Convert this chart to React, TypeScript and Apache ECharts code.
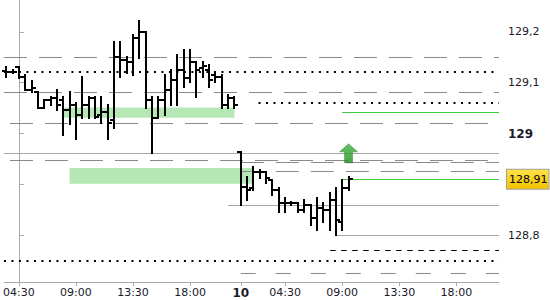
import React, { useEffect, useRef } from "react";
import * as echarts from "echarts";

// 30-minute slots: 0 = 04:30 (day 9). Day 10 starts at slot 35 (01:00).
const barSlots = [-2, -1, 0, 1, 2, 3, 4, 5, 6, 7, 8, 9, 10, 11, 12, 13, 14, 15, 16, 17, 18, 19, 20, 21, 22, 23, 24, 25, 26, 27, 28, 29, 30, 31, 32, 33, 34,
  35, 36, 37, 38, 39, 40, 41, 42, 43, 44, 45, 46, 47, 48, 49, 50, 51, 52];
const opens = [129.123, 129.121, 129.131, 129.111, 129.086, 129.082, 129.050, 129.066, 129.070, 129.066, 129.046, 129.056, 129.036, 129.056, 129.070, 129.036, 129.042, 129.027, 129.151, 129.145, 129.141, 129.188, 129.200, 129.066, 129.031, 129.066, 129.086, 129.105, 129.125, 129.109, 129.141, 129.129, 129.125, 129.115, 129.111, 129.056, 129.070,
  128.964, 128.895, 128.893, 128.924, 128.924, 128.908, 128.889, 128.863, 128.863, 128.863, 128.849, 128.859, 128.834, 128.853, 128.849, 128.869, 128.826, 128.893];
const highs = [129.131, 129.125, 129.131, 129.115, 129.103, 129.082, 129.066, 129.072, 129.086, 129.072, 129.082, 129.060, 129.111, 129.072, 129.072, 129.072, 129.056, 129.180, 129.180, 129.151, 129.194, 129.221, 129.200, 129.072, 129.072, 129.115, 129.125, 129.155, 129.164, 129.164, 129.141, 129.141, 129.135, 129.121, 129.115, 129.076, 129.072,
  128.964, 128.914, 128.934, 128.928, 128.924, 128.908, 128.893, 128.873, 128.865, 128.863, 128.869, 128.859, 128.873, 128.863, 128.883, 128.893, 128.908, 128.914];
const lows = [129.111, 129.119, 129.109, 129.086, 129.082, 129.050, 129.050, 129.056, 129.046, 128.997, 129.019, 128.989, 129.031, 129.031, 129.031, 129.021, 128.989, 129.011, 129.111, 129.119, 129.115, 129.149, 129.050, 128.962, 129.031, 129.036, 129.056, 129.056, 129.092, 129.101, 129.072, 129.111, 129.092, 129.101, 129.050, 129.050, 129.050,
  128.859, 128.869, 128.889, 128.912, 128.903, 128.879, 128.845, 128.845, 128.859, 128.845, 128.845, 128.820, 128.810, 128.826, 128.810, 128.800, 128.810, 128.889];
const closes = [129.121, 129.121, 129.111, 129.086, 129.090, 129.050, 129.066, 129.070, 129.056, 129.046, 129.056, 129.036, 129.056, 129.070, 129.032, 129.042, 129.021, 129.151, 129.145, 129.141, 129.188, 129.200, 129.066, 129.031, 129.066, 129.086, 129.105, 129.125, 129.109, 129.141, 129.125, 129.133, 129.105, 129.111, 129.056, 129.070, 129.056,
  128.895, 128.889, 128.924, 128.924, 128.912, 128.889, 128.863, 128.863, 128.863, 128.849, 128.859, 128.834, 128.853, 128.849, 128.869, 128.830, 128.893, 128.910];

const xMin = -2.35;
const xMax = 75.73;
const yMin = 128.7077;
const yMax = 129.2628;

const xTickSlots = [0, 9, 18, 27, 35, 42, 51, 60, 69];
const xTickLabels = ["04:30", "09:00", "13:30", "18:00", "10", "04:30", "09:00", "13:30", "18:00"];
const yTickValues = [128.8, 128.9, 129, 129.1, 129.2];
const yLabelValues = [128.8, 129, 129.1, 129.2]; // 128,9 is hidden behind the price box

// horizontal levels
const levelValues = [129.150, 129.122, 129.081, 129.060, 129.042, 129.020, 128.961, 128.947, 128.943, 128.926, 128.91, 128.859, 128.799, 128.771, 128.749, 128.725];
const levelStarts = [xMin, xMin, xMin, 37.8, 51, -1.4, xMin, -1.4, 35, 35, 51, 33, 50, 49.1, xMin, 35];
const levelKinds = ["dash", "dot", "dash", "dot", "green", "dash", "solid", "dash", "dash", "dash", "price", "solid", "solid", "black", "dot", "longgap"];

// green zones: [startSlot, endSlot, top, bottom]
const zoneStarts = [7, 8];
const zoneEnds = [34, 36.8];
const zoneTops = [129.051, 128.932];
const zoneBottoms = [129.031, 128.901];

// signal arrow
const arrowSlot = [52];
const arrowValue = [128.961];

const FONT = "DejaVu Sans";

function styleFor(kind: string) {
  switch (kind) {
    case "dash":
      return { color: "#8a8a8a", width: 1, type: [23, 12] };
    case "longgap":
      return { color: "#8a8a8a", width: 1, type: [15, 20] };
    case "dot":
      return { color: "#000", width: 2, type: [2, 5.5] };
    case "green":
    case "price":
      return { color: "#3cc83c", width: 1, type: "solid" };
    case "solid":
      return { color: "#a8a8a8", width: 1, type: "solid" };
    case "black":
      return { color: "#000", width: 1, type: [5.5, 5.5] };
  }
  return { color: "#888", width: 1, type: "solid" };
}

function fmtComma(v: number, d: number) {
  return v.toFixed(d).replace(".", ",");
}

export default function App() {
  const ref = useRef<HTMLDivElement>(null);
  useEffect(() => {
    if (!ref.current) return;
    const chart = echarts.init(ref.current, null, { renderer: "svg" });

    const ohlc = barSlots.map((s, i) => [s, opens[i], highs[i], lows[i], closes[i]]);

    const markLineData = levelValues.map((v, i) => {
      const kind = levelKinds[i];
      const ls = styleFor(kind);
      const start: any = {
        coord: [levelStarts[i], v],
        lineStyle: { color: ls.color, width: ls.width, type: ls.type },
        label: { show: false },
      };
      if (kind === "price") {
        start.label = {
          show: true,
          position: "end",
          formatter: fmtComma(v, 2),
          distance: 8,
          color: "#000",
          fontFamily: FONT,
          fontSize: 11,
          lineHeight: 14,
          padding: [3, 1, 2, 2],
          backgroundColor: new echarts.graphic.LinearGradient(0, 0, 0, 1, [
            { offset: 0, color: "#ffe24a" },
            { offset: 1, color: "#f2c200" },
          ]),
          borderColor: "#a0a0a0",
          borderWidth: 1,
        };
      }
      return [start, { coord: [xMax, v] }];
    });

    const markAreaData = zoneStarts.map((s, i) => [
      { coord: [s, zoneTops[i]] },
      { coord: [zoneEnds[i], zoneBottoms[i]] },
    ]);

    chart.setOption({
      animation: false,
      grid: { left: 0, top: 0, right: 51, bottom: 18 },
      xAxis: {
        type: "value",
        min: xMin,
        max: xMax,
        splitLine: { show: false },
        axisLine: { onZero: false, lineStyle: { color: "#aaaaaa" } },
        axisTick: { show: true, length: 4, customValues: xTickSlots, lineStyle: { color: "#aaaaaa" } },
        axisLabel: {
          customValues: xTickSlots,
          margin: 5,
          fontFamily: FONT,
          fontSize: 11,
          color: "#1a1a2a",
          formatter: (v: number) => {
            const i = xTickSlots.indexOf(Math.round(v));
            const t = i >= 0 ? xTickLabels[i] : "";
            return t === "10" ? "{b|10}" : t;
          },
          rich: { b: { fontWeight: "bold", fontFamily: FONT, fontSize: 12, color: "#1a1a2a" } },
        },
      },
      yAxis: {
        type: "value",
        position: "right",
        min: yMin,
        max: yMax,
        scale: true,
        splitLine: { show: false },
        axisLine: { show: true, lineStyle: { color: "#aaaaaa" } },
        axisTick: { show: true, length: 5, customValues: yTickValues, lineStyle: { color: "#aaaaaa" } },
        axisLabel: {
          customValues: yLabelValues,
          margin: 9,
          fontFamily: FONT,
          fontSize: 11,
          color: "#1a1a2a",
          formatter: (v: number) => {
            if (Math.abs(v - 129) < 1e-6) return "{b|129}";
            return fmtComma(v, 1);
          },
          rich: { b: { fontWeight: "bold", fontFamily: FONT, fontSize: 12, color: "#1a1a2a" } },
        },
      },
      series: [
        {
          type: "line",
          data: [],
          z: 1,
          silent: true,
          markArea: {
            silent: true,
            itemStyle: { color: "#b5e8b5" },
            data: markAreaData,
          },
          markLine: {
            silent: true,
            symbol: ["none", "none"],
            animation: false,
            data: markLineData,
          },
        },
        {
          type: "custom",
          z: 5,
          data: ohlc,
          encode: { x: 0, y: [1, 2, 3, 4] },
          renderItem: (params: any, api: any) => {
            const x = api.value(0);
            const o = api.coord([x, api.value(1)]);
            const h = api.coord([x, api.value(2)]);
            const l = api.coord([x, api.value(3)]);
            const c = api.coord([x, api.value(4)]);
            const cx = Math.round(o[0]);
            const style = { stroke: "#000", lineWidth: 2, fill: null };
            const oy = Math.round(o[1]);
            const cy = Math.round(c[1]);
            return {
              type: "group",
              children: [
                { type: "line", shape: { x1: cx, y1: Math.round(h[1]) - 1, x2: cx, y2: Math.round(l[1]) + 1 }, style },
                { type: "line", shape: { x1: cx - 4, y1: oy, x2: cx, y2: oy }, style },
                { type: "line", shape: { x1: cx, y1: cy, x2: cx + 4, y2: cy }, style },
              ],
            };
          },
        },
        {
          type: "scatter",
          z: 6,
          data: arrowSlot.map((s, i) => [s, arrowValue[i]]),
          symbol: "path://M9,0 L18,8 L13,8 L13,19 L5,19 L5,8 L0,8 Z",
          symbolSize: [18, 19],
          itemStyle: {
            color: new echarts.graphic.LinearGradient(0, 0, 0, 1, [
              { offset: 0, color: "#3cb43c" },
              { offset: 1, color: "#1f8a1f" },
            ]),
            borderColor: "#1d7a1d",
            borderWidth: 0.5,
          },
        },
      ],
    });
    return () => chart.dispose();
  }, []);
  return (
    <div
      ref={ref}
      style={{ position: "absolute", left: 0, top: 0, width: 550, height: 300, background: "#fff" }}
    />
  );
}
